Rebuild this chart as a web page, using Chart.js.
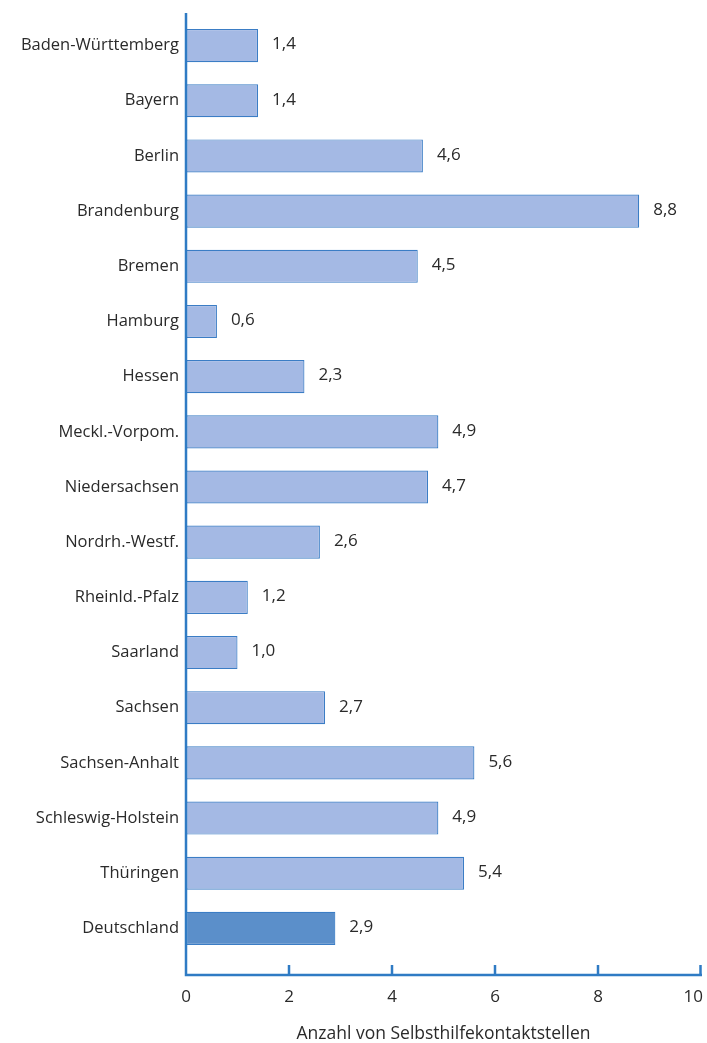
<!DOCTYPE html>
<html>
<head>
<meta charset="utf-8">
<script src="https://cdn.jsdelivr.net/npm/chart.js@4"></script>
<style>
  html, body { margin: 0; padding: 0; background: #fff; }
  #wrap { width: 707px; height: 1043px; }
</style>
</head>
<body>
<div id="wrap"><canvas id="laenderChart"></canvas></div>
<script>
const laender = ["Baden-Württemberg", "Bayern", "Berlin", "Brandenburg", "Bremen", "Hamburg", "Hessen",
    "Meckl.-Vorpom.", "Niedersachsen", "Nordrh.-Westf.", "Rheinld.-Pfalz", "Saarland", "Sachsen",
    "Sachsen-Anhalt", "Schleswig-Holstein", "Thüringen", "Deutschland"];
const kontaktstellen = [1.4, 1.4, 4.6, 8.8, 4.5, 0.6, 2.3, 4.9, 4.7, 2.6, 1.2, 1.0, 2.7, 5.6, 4.9, 5.4, 2.9];
const xTicks = [0, 2, 4, 6, 8, 10];
const axisTitle = "Anzahl von Selbsthilfekontaktstellen";

const axisColor = "#2f7bc4";
const textColor = "#2a2a2a";
const fontFamily = "'Open Sans', sans-serif";

// axis lines, inward tick marks and tick labels; x axis sits a bit below the last bar slot
const axisPlugin = {
    id: "axisLines",
    afterDraw(chart) {
        const { ctx, chartArea, scales } = chart;
        const x = scales.x;
        const yBottom = chartArea.bottom + 19;
        const yTop = chartArea.top - 5;
        ctx.save();
        ctx.strokeStyle = axisColor;
        ctx.lineWidth = 2.5;
        ctx.beginPath();
        ctx.moveTo(x.getPixelForValue(0), yTop);
        ctx.lineTo(x.getPixelForValue(0), yBottom);
        ctx.lineTo(x.getPixelForValue(10) + 1, yBottom);
        ctx.stroke();
        ctx.fillStyle = textColor;
        ctx.font = "17px " + fontFamily;
        ctx.textBaseline = "middle";
        ctx.textAlign = "center";
        xTicks.forEach(function (t) {
            const px = Math.min(x.getPixelForValue(t), x.getPixelForValue(10) - 0.5);
            if (t !== 0) {
                ctx.beginPath();
                ctx.moveTo(px, yBottom);
                ctx.lineTo(px, yBottom - 10);
                ctx.stroke();
            }
            // keep the last label inside the canvas
            const w = ctx.measureText(String(t)).width;
            const lx = Math.min(px, chart.width - 4 - w / 2);
            ctx.fillText(String(t), lx, yBottom + 22);
        });
        ctx.restore();
    }
};

// value labels to the right of each bar, German decimal comma
const valuePlugin = {
    id: "valueLabels",
    afterDatasetsDraw(chart) {
        const { ctx } = chart;
        const meta = chart.getDatasetMeta(0);
        ctx.save();
        ctx.fillStyle = textColor;
        ctx.font = "17px " + fontFamily;
        ctx.textBaseline = "middle";
        meta.data.forEach(function (bar, i) {
            ctx.fillText(kontaktstellen[i].toFixed(1).replace(".", ","), bar.x + 14, bar.y - 1);
        });
        ctx.restore();
    }
};

new Chart(document.getElementById("laenderChart"), {
    type: "bar",
    data: {
        labels: laender,
        datasets: [{
            data: kontaktstellen,
            backgroundColor: laender.map(function (l) { return l === "Deutschland" ? "#5b8fca" : "#a4b9e4"; }),
            borderColor: "#3b7dc5",
            borderWidth: 1.2,
            borderSkipped: false,
            categoryPercentage: 1,
            barPercentage: 0.6
        }]
    },
    options: {
        indexAxis: "y",
        responsive: true,
        maintainAspectRatio: false,
        animation: false,
        layout: { padding: { top: 18, right: 6, bottom: 0, left: 0 } },
        plugins: {
            legend: { display: false },
            tooltip: { enabled: false }
        },
        scales: {
            x: {
                min: 0,
                max: 10,
                afterBuildTicks: function (scale) {
                    scale.ticks = xTicks.map(function (v) { return { value: v }; });
                },
                afterFit: function (scale) {
                    scale.height = 87;
                    scale.paddingLeft = 0;
                    scale.paddingRight = 0;
                },
                grid: { display: false, drawTicks: false },
                border: { display: false },
                ticks: { display: false },
                title: {
                    display: true,
                    text: axisTitle,
                    color: textColor,
                    padding: { top: 17, bottom: -2 },
                    font: { family: fontFamily, size: 17.5 }
                }
            },
            y: {
                afterFit: function (scale) { scale.width = 186; },
                grid: { display: false, drawTicks: false },
                border: { display: false },
                ticks: {
                    padding: 7,
                    color: textColor,
                    font: { family: fontFamily, size: 16.5 }
                }
            }
        }
    },
    plugins: [axisPlugin, valuePlugin]
});
</script>
</body>
</html>
